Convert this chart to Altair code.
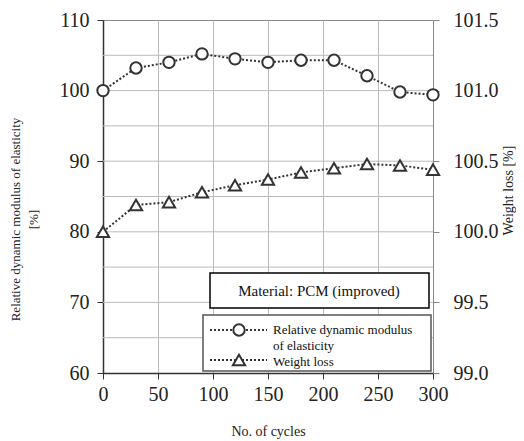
import altair as alt
import pandas as pd

# ---- data ----
cycles = [0, 30, 60, 90, 120, 150, 180, 210, 240, 270, 300]
modulus = [100.0, 103.2, 104.0, 105.2, 104.5, 104.0, 104.3, 104.3, 102.1, 99.8, 99.4]
weight = [100.00, 100.19, 100.21, 100.28, 100.33, 100.37, 100.42, 100.45, 100.48, 100.47, 100.44]

hgrid = [65, 70, 75, 80, 85, 90, 95, 100, 105]
x_ticks = [0, 50, 100, 150, 200, 250, 300]
left_ticks = [60, 70, 80, 90, 100, 110]
right_ticks = [99.0, 99.5, 100.0, 100.5, 101.0, 101.5]

x_title = "No. of cycles"
left_title = ["Relative dynamic modulus of elasticity", "[%]"]
right_title = "Weight loss [%]"
panel_label = "Material: PCM (improved)"
legend_lines = ["Relative dynamic modulus", "of elasticity", "Weight loss"]

df = pd.DataFrame({"cycles": cycles, "modulus": modulus, "weight": weight})
grid_df = pd.DataFrame({"g": hgrid})
one = pd.DataFrame({"a": [0]})

FONT = "'Liberation Serif', 'DejaVu Serif', serif"
INK = "#333333"
W, H = 330, 353

x_enc = alt.X(
    "cycles:Q",
    scale=alt.Scale(domain=[0, 300], nice=False),
    axis=alt.Axis(
        values=x_ticks, title=x_title, grid=True, gridColor="#bbbbbb",
        domainColor=INK, domainWidth=1.5, tickColor=INK, tickSize=6,
        labelPadding=5, labelFlush=False, titleY=58, titleBaseline="middle",
        format="d", labelFont=FONT, titleFont=FONT,
    ),
)

yl_scale = alt.Scale(domain=[60, 110], nice=False, zero=False)
yl_axis = alt.Axis(
    values=left_ticks, grid=False, title=left_title, domainColor=INK,
    domainWidth=1.5, tickColor=INK, tickSize=6, labelPadding=8,
    labelFlush=False, titleX=-94, titleY=199, titleAngle=270,
    titleBaseline="top", titleAlign="center", titleLineHeight=18,
    titleFontSize=13, labelFont=FONT, titleFont=FONT,
)

yr_scale = alt.Scale(domain=[99.0, 101.5], nice=False, zero=False)
yr_axis = alt.Axis(
    orient="right", values=right_ticks, format=".1f", grid=False,
    title=right_title, domainColor="#888888", tickColor="#888888",
    tickSize=6, labelPadding=14, labelFlush=False, titleX=75, titleY=170,
    titleAngle=270, titleBaseline="middle", titleAlign="center",
    labelFont=FONT, titleFont=FONT,
)

dots = [2, 2]

grid = alt.Chart(grid_df).mark_rule(color="#bbbbbb", strokeWidth=1).encode(
    y=alt.Y("g:Q", scale=yl_scale, axis=yl_axis)
)
mod_line = alt.Chart(df).mark_line(color=INK, strokeWidth=2, strokeDash=dots).encode(
    x=x_enc, y=alt.Y("modulus:Q", scale=yl_scale, axis=yl_axis)
)
mod_pts = alt.Chart(df).mark_point(
    shape="circle", size=130, filled=True, fill="white", stroke=INK,
    strokeWidth=2, opacity=1,
).encode(x=x_enc, y=alt.Y("modulus:Q", scale=yl_scale, axis=yl_axis))

left = alt.layer(grid, mod_line, mod_pts)

w_line = alt.Chart(df).mark_line(color=INK, strokeWidth=2, strokeDash=dots).encode(
    x=x_enc, y=alt.Y("weight:Q", scale=yr_scale, axis=yr_axis)
)
w_pts = alt.Chart(df).mark_point(
    shape="triangle-up", size=150, filled=True, fill="white", stroke=INK,
    strokeWidth=2, opacity=1,
).encode(x=x_enc, y=alt.Y("weight:Q", scale=yr_scale, axis=yr_axis))

right = alt.layer(w_line, w_pts)

# ---- annotation boxes (legend drawn by hand) ----
box1 = alt.Chart(one).mark_rect(fill="white", stroke="black", strokeWidth=1.5).encode(
    x=alt.value(107), x2=alt.value(326), y=alt.value(253), y2=alt.value(288)
)
box1_txt = alt.Chart(one).mark_text(font=FONT, fontSize=15, color="#111").encode(
    x=alt.value(216), y=alt.value(271), text=alt.value(panel_label)
)
box2 = alt.Chart(one).mark_rect(fill="white", stroke="#555555", strokeWidth=1.5).encode(
    x=alt.value(100), x2=alt.value(328), y=alt.value(295), y2=alt.value(351)
)
leg_r1 = alt.Chart(one).mark_rule(color=INK, strokeWidth=2, strokeDash=dots).encode(
    x=alt.value(107), x2=alt.value(164), y=alt.value(310)
)
leg_r2 = alt.Chart(one).mark_rule(color=INK, strokeWidth=2, strokeDash=dots).encode(
    x=alt.value(107), x2=alt.value(164), y=alt.value(340)
)
leg_c = alt.Chart(one).mark_point(
    shape="circle", size=130, filled=True, fill="white", stroke=INK, strokeWidth=2, opacity=1
).encode(x=alt.value(136), y=alt.value(310))
leg_t = alt.Chart(one).mark_point(
    shape="triangle-up", size=150, filled=True, fill="white", stroke=INK, strokeWidth=2, opacity=1
).encode(x=alt.value(136), y=alt.value(340))
leg_txt = [
    alt.Chart(one).mark_text(font=FONT, fontSize=13, align="left", color="#111").encode(
        x=alt.value(170), y=alt.value(yy), text=alt.value(t)
    )
    for t, yy in zip(legend_lines, [310, 326, 342])
]

chart = (
    alt.layer(left, right, box1, box1_txt, box2, leg_r1, leg_r2, leg_c, leg_t, *leg_txt)
    .resolve_scale(y="independent")
    .properties(
        width=W, height=H,
        autosize=alt.AutoSizeParams(type="none"),
        padding={"left": 95, "top": 12, "right": 83, "bottom": 68},
        background="white",
    )
    .configure(font=FONT)
    .configure_axis(
        labelFont=FONT, titleFont=FONT, labelFontSize=20, titleFontSize=14,
        labelColor="#222222", titleColor="#222222", titleFontWeight="normal",
    )
    .configure_text(font=FONT)
    .configure_view(stroke="#888888", strokeWidth=1)
)

chart.save("out.html", embed_options={"renderer": "svg", "actions": False})
